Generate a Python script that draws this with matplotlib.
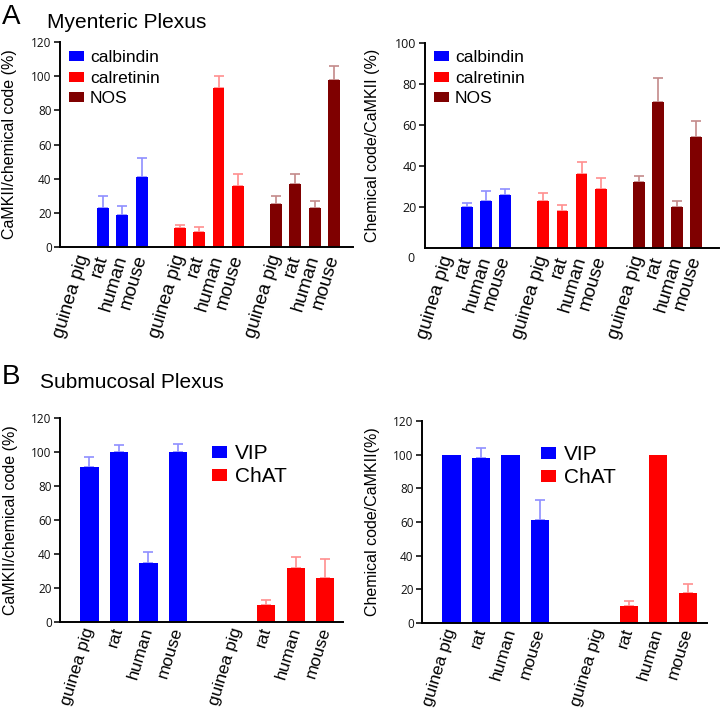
import numpy as np
import matplotlib
matplotlib.use("Agg")
import matplotlib.pyplot as plt

plt.rcParams['font.family'] = ['Liberation Sans', 'DejaVu Sans']

species = ["guinea pig", "rat", "human", "mouse"]
nan = np.nan

# Panel A left: CaMKII/chemical code (%)
a1_calbindin = [nan, 23, 19, 41]
a1_calbindin_err = [nan, 7, 5, 11]
a1_calretinin = [11, 9, 93, 36]
a1_calretinin_err = [2, 3, 7, 7]
a1_nos = [25, 37, 23, 98]
a1_nos_err = [5, 6, 4, 8]

# Panel A right: Chemical code/CaMKII (%)
a2_calbindin = [nan, 20, 23, 26]
a2_calbindin_err = [nan, 2, 5, 3]
a2_calretinin = [23, 18, 36, 29]
a2_calretinin_err = [4, 3, 6, 5]
a2_nos = [32, 71, 20, 54]
a2_nos_err = [3, 12, 3, 8]

# Panel B left
b1_vip = [91, 100, 35, 100]
b1_vip_err = [6, 4, 6, 5]
b1_chat = [nan, 10, 32, 26]
b1_chat_err = [nan, 3, 6.5, 11]

# Panel B right
b2_vip = [100, 98, 100, 61]
b2_vip_err = [nan, 6, nan, 12]
b2_chat = [nan, 10, 100, 18]
b2_chat_err = [nan, 3, nan, 5]

BLUE = "#0000ff"
RED = "#ff0000"
DARK = "#7f0000"
ERRC = {BLUE: "#8f8fff", RED: "#ff8f8f", DARK: "#c48a8a"}

W, H = 723, 713
fig = plt.figure(figsize=(W / 100, H / 100), dpi=100)


def axes_px(l, r, t, b):
    return fig.add_axes([l / W, 1 - b / H, (r - l) / W, (b - t) / H])


def draw_group(ax, x0, vals, errs, color, label):
    x = x0 + np.arange(len(vals))
    v = np.array(vals, dtype=float)
    e = np.array(errs, dtype=float)
    bars = ax.bar(x, np.nan_to_num(v), width=0.62, color=color, label=label, zorder=2)
    ok = ~np.isnan(e)
    ax.errorbar(x[ok], v[ok], yerr=[np.zeros(ok.sum()), e[ok]], fmt="none",
                ecolor=ERRC[color], elinewidth=1.2, capsize=3.5, capthick=1.2, zorder=1)
    return bars


def style(ax, ylim, yticks, ylabel, xpos, labcoord, tickfs, xfs, xpad):
    ax.set_ylim(*ylim)
    ax.set_yticks(yticks)
    ax.set_yticklabels([str(t) for t in yticks], fontsize=tickfs, family="Open Sans")
    for s in ("top", "right"):
        ax.spines[s].set_visible(False)
    for s in ("left", "bottom"):
        ax.spines[s].set_linewidth(1.4)
    ax.tick_params(axis="y", length=4, width=1.2, pad=2, colors="#111111")
    ax.tick_params(axis="x", length=0, pad=xpad)
    ax.set_xticks(xpos)
    ax.set_xticklabels(species * (len(xpos) // 4), rotation=73, ha="right", va="center",
                       rotation_mode="anchor", fontsize=xfs)
    ax.set_ylabel(ylabel, fontsize=11.5)
    ax.yaxis.set_label_coords(*labcoord)


def legend(ax, handles, x, y, fs, hl, pad, ls):
    ax.legend(handles=handles, loc="upper left", bbox_to_anchor=(x / W, 1 - y / H),
              bbox_transform=fig.transFigure, frameon=False, fontsize=fs, borderpad=0,
              borderaxespad=0, handlelength=hl, handleheight=0.5, handletextpad=pad,
              labelspacing=ls)


# ---- A left
ax1 = axes_px(60, 353, 42, 247)
h = [draw_group(ax1, 0, a1_calbindin, a1_calbindin_err, BLUE, "calbindin"),
     draw_group(ax1, 5, a1_calretinin, a1_calretinin_err, RED, "calretinin"),
     draw_group(ax1, 10, a1_nos, a1_nos_err, DARK, "NOS")]
ax1.set_xlim(-1.25, 14.0)
style(ax1, (0, 120), [0, 20, 40, 60, 80, 100, 120], "CaMKII/chemical code (%)",
      [0, 1, 2, 3, 5, 6, 7, 8, 10, 11, 12, 13], (-0.147, 0.5), 8.5, 13.5, 6)
legend(ax1, h, 69, 50, 12.5, 0.85, 0.35, 0.33)

# ---- A right
ax2 = axes_px(425, 719, 43, 248)
h = [draw_group(ax2, 0, a2_calbindin, a2_calbindin_err, BLUE, "calbindin"),
     draw_group(ax2, 5, a2_calretinin, a2_calretinin_err, RED, "calretinin"),
     draw_group(ax2, 10, a2_nos, a2_nos_err, DARK, "NOS")]
ax2.set_xlim(-1.2, 14.2)
style(ax2, (0, 100), [20, 40, 60, 80, 100], "Chemical code/CaMKII (%)",
      [0, 1, 2, 3, 5, 6, 7, 8, 10, 11, 12, 13], (-0.153, 0.5), 9, 13.5, 6)
ax2.text(-0.035, -0.05, "0", transform=ax2.transAxes, ha="right", va="center",
         fontsize=9, family="Open Sans", color="#111111")
legend(ax2, h, 434, 50, 12.5, 0.85, 0.35, 0.33)

# ---- B left
ax3 = axes_px(60, 343, 418, 622)
h = [draw_group(ax3, 0, b1_vip, b1_vip_err, BLUE, "VIP"),
     draw_group(ax3, 5, b1_chat, b1_chat_err, RED, "ChAT")]
ax3.set_xlim(-1.0, 8.6)
style(ax3, (0, 120), [0, 20, 40, 60, 80, 100, 120], "CaMKII/chemical code (%)",
      [0, 1, 2, 3, 5, 6, 7, 8], (-0.148, 0.5), 8.5, 12.5, 4)
legend(ax3, h, 212, 444, 15, 0.7, 0.4, 0.2)

# ---- B right
ax4 = axes_px(422, 707, 421, 623)
h = [draw_group(ax4, 0, b2_vip, b2_vip_err, BLUE, "VIP"),
     draw_group(ax4, 5, b2_chat, b2_chat_err, RED, "ChAT")]
ax4.set_xlim(-1.0, 8.65)
style(ax4, (0, 120), [0, 20, 40, 60, 80, 100, 120], "Chemical code/CaMKII(%)",
      [0, 1, 2, 3, 5, 6, 7, 8], (-0.147, 0.5), 8.5, 12.5, 4)
legend(ax4, h, 541, 445, 15, 0.7, 0.4, 0.2)

# panel letters and titles
fig.text(2 / W, 1 - 17 / H, "A", fontsize=20, va="center", ha="left")
fig.text(47 / W, 1 - 22 / H, "Myenteric Plexus", fontsize=15, va="center", ha="left")
fig.text(2 / W, 1 - 377 / H, "B", fontsize=20, va="center", ha="left")
fig.text(40 / W, 1 - 382 / H, "Submucosal Plexus", fontsize=15, va="center", ha="left")

fig.savefig("out.png", dpi=100)
